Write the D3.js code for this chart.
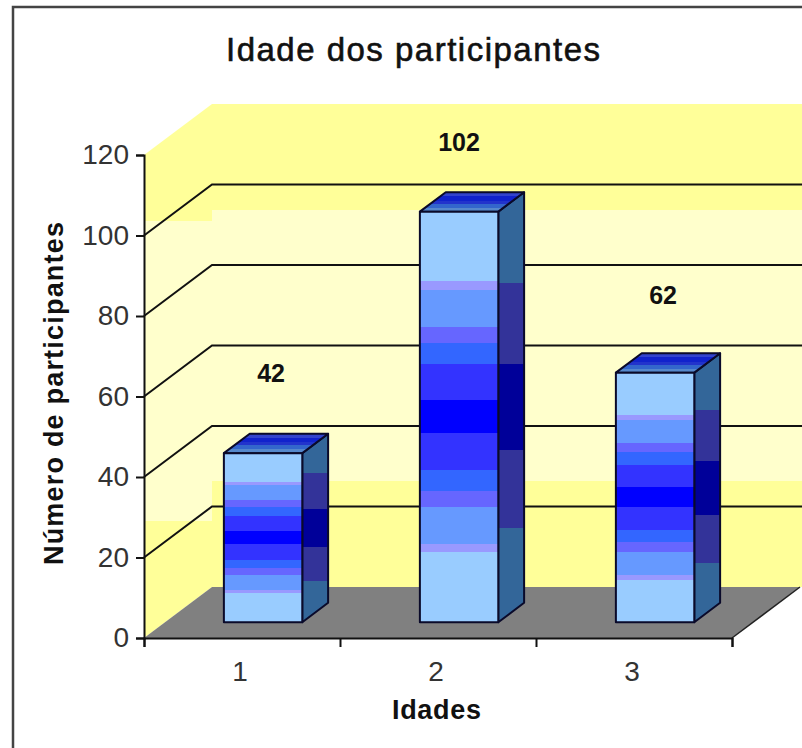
<!DOCTYPE html>
<html>
<head>
<meta charset="utf-8">
<title>Idade dos participantes</title>
<script src="https://cdn.jsdelivr.net/npm/d3@7"></script>
<style>
html,body{margin:0;padding:0;background:#fff;overflow:hidden}
text{font-family:"Liberation Sans",Arial,sans-serif}
</style>
</head>
<body>
<svg id="chart" width="802" height="748"></svg>
<script>
// chart values
var categories = ["1","2","3"];
var participantes = [42,102,62];
var yTicks = [0,20,40,60,80,100,120];

// the fake 3d box
var plotL = 144, plotR = 732, plotB = 638, plotT = 155;
var depthX = 68, depthY = 51;   // how far the back wall is pushed
var barInset = 0.31, barDepth = 0.38; // bar position inside the depth, as fraction
var labelLift = [80,70,78];     // labels float by hand above the bars
var labelShift = [8,0,8];

// colour bands: [end offset,colour]
var wallBands = [[0.22,"#ffff99"],[0.78,"#ffffcc"],[1,"#ffff99"]];
var frontBands = [[0.17,"#99ccff"],[0.19,"#9999ff"],[0.28,"#6699ff"],[0.32,"#6666ff"],[0.37,"#3366ff"],[0.46,"#3333ff"],
	[0.54,"#0000ff"],[0.63,"#3333ff"],[0.68,"#3366ff"],[0.72,"#6666ff"],[0.81,"#6699ff"],[0.83,"#9999ff"],[1,"#99ccff"]];
var sideBands = [[0.21,"#336699"],[0.40,"#333399"],[0.60,"#000099"],[0.78,"#333399"],[1,"#336699"]];
var topBands = [[0.2,"#3344cc"],[0.45,"#1122cc"],[0.6,"#2233cc"],[0.8,"#3366cc"],[1,"#5588cc"]];

var svg = d3.select("#chart");
var defs = svg.append("defs");

// hard edged gradient from a list of bands
function addBands(id,bands){
	var g = defs.append("linearGradient").attr("id",id)
		.attr("x1",0).attr("y1",0).attr("x2",0).attr("y2",1);
	var prev = 0;
	bands.forEach(function(b){
		g.append("stop").attr("offset",prev).attr("stop-color",b[1]);
		g.append("stop").attr("offset",b[0]).attr("stop-color",b[1]);
		prev = b[0];
	});
}
addBands("wall",wallBands);
addBands("front",frontBands);
addBands("side",sideBands);
addBands("top",topBands);

var y = d3.scaleLinear().domain([0,120]).range([plotB,plotT]);
var xBand = d3.scaleBand().domain(categories).range([plotL,plotR]);
var xEdge = d3.scaleLinear().domain([0,categories.length]).range([plotL,plotR]);
var pts = function(a){ return a.map(function(p){return p.join(",")}).join(" "); };

// frame, only top and left are in the picture
svg.append("path")
	.attr("d",d3.line()([[13,748],[13,7],[802,7]]))
	.attr("fill","none").attr("stroke","#444").attr("stroke-width",2.5);

// left wall
svg.append("polygon")
	.attr("points",pts([[plotL,plotT],[plotL+depthX,plotT-depthY],[plotL+depthX,plotB-depthY],[plotL,plotB]]))
	.attr("fill","url(#wall)");
// back wall
svg.append("polygon")
	.attr("points",pts([[plotL+depthX,plotT-depthY],[802,plotT-depthY],[802,plotB-depthY],[plotL+depthX,plotB-depthY]]))
	.attr("fill","url(#wall)");
// floor
svg.append("polygon")
	.attr("points",pts([[plotL,plotB],[plotR,plotB],[plotR+depthX,plotB-depthY],[plotL+depthX,plotB-depthY]]))
	.attr("fill","#808080");

// gridlines, they bend at the corner of the box
svg.append("g").selectAll("path")
	.data(yTicks.filter(function(d){return d>0 && d<120}))
	.enter().append("path")
	.attr("d",function(d){
		return d3.line()([[plotL,y(d)],[plotL+depthX,y(d)-depthY],[802,y(d)-depthY]]);
	})
	.attr("fill","none").attr("stroke","#111").attr("stroke-width",2);

// floor right edge
svg.append("line")
	.attr("x1",plotR).attr("y1",plotB).attr("x2",plotR+depthX).attr("y2",plotB-depthY)
	.attr("stroke","#222").attr("stroke-width",1.5);

// axes
var yAxis = svg.append("g").attr("transform","translate("+plotL+",0)")
	.call(d3.axisLeft(y).tickValues(yTicks).tickSize(8).tickPadding(7));
var xTicks = svg.append("g").attr("transform","translate(0,"+plotB+")")
	.call(d3.axisBottom(xEdge).tickValues(d3.range(categories.length+1)).tickSize(9).tickFormat(""));
var xLabels = svg.append("g").attr("transform","translate(-2,"+plotB+")")
	.call(d3.axisBottom(xBand).tickSize(0).tickPadding(23));
[yAxis,xTicks].forEach(function(a){
	a.selectAll("path,line").attr("stroke","#111").attr("stroke-width",2);
});
xLabels.select("path").remove();
svg.selectAll("g.tick text").attr("font-size",28)
	.attr("font-family","Liberation Sans").attr("fill","#333");

// bars
var rows = categories.map(function(c,i){return {cat:c,val:participantes[i],lift:labelLift[i],shift:labelShift[i]}});
var bars = svg.append("g").selectAll("g").data(rows).enter().append("g");
var barW = xBand.bandwidth()*0.4;
var sx = depthX*barInset, sy = depthY*barInset, dx = depthX*barDepth, dy = depthY*barDepth;
function left(d){ return xBand(d.cat)+(xBand.bandwidth()-barW)/2+sx; }
function top_(d){ return y(d.val)-sy; }
function bot(){ return y(0)-sy; }

bars.append("polygon") // side
	.attr("points",function(d){
		var r = left(d)+barW;
		return pts([[r,top_(d)],[r+dx,top_(d)-dy],[r+dx,bot()-dy],[r,bot()]]);
	})
	.attr("fill","url(#side)");
bars.append("polygon") // lid
	.attr("points",function(d){
		var l = left(d), t = top_(d);
		return pts([[l,t],[l+dx,t-dy],[l+barW+dx,t-dy],[l+barW,t]]);
	})
	.attr("fill","url(#top)");
bars.append("rect") // front
	.attr("x",left).attr("y",top_)
	.attr("width",barW)
	.attr("height",function(d){return bot()-top_(d)})
	.attr("fill","url(#front)");
bars.selectAll("polygon,rect")
	.attr("stroke","#0a0a2a").attr("stroke-width",2).attr("stroke-linejoin","round");

// value labels
bars.append("text")
	.attr("x",function(d){return left(d)+barW/2+d.shift})
	.attr("y",function(d){return top_(d)-d.lift+9})
	.attr("text-anchor","middle")
	.attr("font-size",25).attr("font-weight","bold").attr("fill","#111")
	.text(function(d){return d.val});

// titles
svg.append("text").attr("x",226).attr("y",61)
	.attr("font-size",33).attr("fill","#111").attr("stroke","#111").attr("stroke-width",0.6)
	.attr("textLength",374)
	.text("Idade dos participantes");
svg.append("text").attr("x",392).attr("y",719)
	.attr("font-size",27).attr("font-weight","bold").attr("fill","#111")
	.attr("textLength",89)
	.text("Idades");
svg.append("text").attr("transform","translate(63,565) rotate(-90)")
	.attr("font-size",27).attr("font-weight","bold").attr("fill","#111")
	.attr("textLength",343)
	.text("Número de participantes");
</script>
</body>
</html>
